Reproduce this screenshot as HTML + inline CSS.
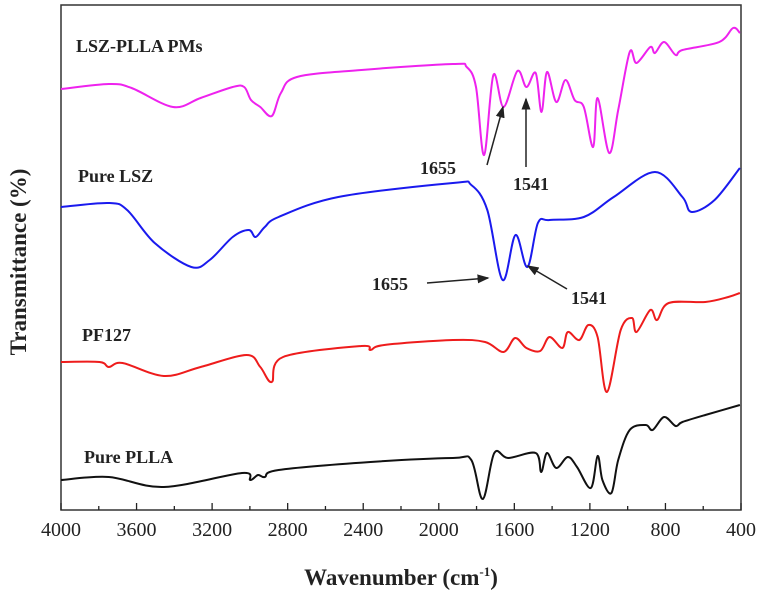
<!DOCTYPE html>
<html><head><meta charset="utf-8"><style>
html,body{margin:0;padding:0;background:#fff;}
svg{display:block;font-family:"Liberation Serif",serif;}
</style></head><body>
<svg id="chart" width="763" height="594" viewBox="0 0 763 594" xmlns="http://www.w3.org/2000/svg"></svg>
<script>
const xTicks=[4000,3600,3200,2800,2400,2000,1600,1200,800,400];
const seriesNames=["LSZ-PLLA PMs","Pure LSZ","PF127","Pure PLLA"];
const seriesColors=["#ee22ee","#1a1aee","#ee1c1c","#111111"];
const wnLSZPLLA=[4000,3747,3626,3407,3261,3091,3030,2994,2945,2884,2836,2751,2410,1925,1852,1803,1760,1711,1657,1584,1536,1487,1456,1427,1378,1329,1281,1232,1183,1159,1098,1050,989,953,880,856,807,746,710,515,442,406];
const tLSZPLLA=[421,426,422,403,412,423,423,410,403,394,417,433,440,446,443,423,355,435,403,439,423,437,398,438,408,430,410,403,363,412,357,400,458,447,463,457,468,455,460,468,482,477];
const wnLSZ=[4000,3747,3650,3504,3310,3213,3091,3006,2970,2921,2848,2532,1925,1828,1743,1662,1594,1531,1475,1414,1232,1074,856,710,661,540,406];
const tLSZ=[303,307,300,267,243,250,273,280,273,283,293,313,327,325,300,230,275,243,287,290,293,313,338,313,298,310,342];
const wnPF127=[4000,3796,3747,3674,3456,3261,3018,2945,2884,2824,2410,2362,2289,1925,1755,1657,1596,1536,1463,1414,1346,1317,1256,1208,1159,1110,1037,977,953,880,844,783,589,467,406];
const tPF127=[148,148,143,147,134,143,155,143,128,153,164,160,165,170,168,158,172,162,159,173,162,178,170,185,173,118,180,192,178,200,190,207,208,213,217];
const wnPLLA=[4000,3747,3456,3042,2998,2957,2921,2848,2362,1925,1828,1767,1706,1633,1487,1458,1427,1378,1317,1268,1195,1159,1134,1086,1050,989,904,868,807,746,710,589,406];
const tPLLA=[30,33,23,37,30,35,33,40,48,52,50,11,57,52,57,38,57,42,53,43,22,54,30,17,50,80,85,80,93,84,88,95,105];

const L=61,R=741,T=5,B=510;
const xS=w=>L+(4000-w)/3600*(R-L);
const yS=v=>B-v/505*(B-T);
const svg=document.getElementById('chart');
const NS='http://www.w3.org/2000/svg';
function mk(tag,attrs,parent){const e=document.createElementNS(NS,tag);for(const k in attrs)e.setAttribute(k,attrs[k]);(parent||svg).appendChild(e);return e;}

const frame=mk('rect',{x:L,y:T,width:R-L,height:B-T,fill:'none',stroke:'#333','stroke-width':1.5});



for(let w=4000;w>=400;w-=200){
  const major=(w%400===0);
  const t=mk('line',{x1:xS(w),x2:xS(w),y1:B,y2:B-(major?7:4),stroke:'#222','stroke-width':1.3});
  
  
}
xTicks.forEach(w=>{
  const t=mk('text',{x:xS(w),y:536,'text-anchor':'middle','font-size':20,fill:'#222'});
  t.textContent=w;
  
  
});

const datasets=[[wnLSZPLLA,tLSZPLLA],[wnLSZ,tLSZ],[wnPF127,tPF127],[wnPLLA,tPLLA]];
const lineNames=['lszplla-spectrum','pure-lsz-spectrum','pf127-spectrum','pure-plla-spectrum'];
datasets.forEach((d,i)=>{
  const pts=d[0].map((w,j)=>[xS(w),yS(d[1][j])]);
  let p='M'+pts[0][0].toFixed(1)+','+pts[0][1].toFixed(1);
  for(let j=0;j<pts.length-1;j++){
    const p0=pts[Math.max(0,j-1)],p1=pts[j],p2=pts[j+1],p3=pts[Math.min(pts.length-1,j+2)];
    const c1x=p1[0]+(p2[0]-p0[0])/6,c1y=p1[1]+(p2[1]-p0[1])/6;
    const c2x=p2[0]-(p3[0]-p1[0])/6,c2y=p2[1]-(p3[1]-p1[1])/6;
    p+=' C'+c1x.toFixed(1)+','+c1y.toFixed(1)+' '+c2x.toFixed(1)+','+c2y.toFixed(1)+' '+p2[0].toFixed(1)+','+p2[1].toFixed(1);
  }
  const path=mk('path',{d:p,fill:'none',stroke:seriesColors[i],'stroke-width':2,'stroke-linejoin':'round'});
  
  
});

const labelPos=[[76,52],[78,182],[82,341],[84,463]];
const labelNames=['label-lszplla','label-pure-lsz','label-pf127','label-pure-plla'];
seriesNames.forEach((n,i)=>{
  const t=mk('text',{x:labelPos[i][0],y:labelPos[i][1],'font-size':18,'font-weight':'bold',fill:'#222'});
  t.textContent=n;
  
  
});

mk('defs',{}).innerHTML='<marker id="ah" markerWidth="8" markerHeight="8" refX="7" refY="4" orient="auto"><path d="M0,1 L8,4 L0,7 z" fill="#222"/></marker>';
const arrows=[[487,165,503,107,'arrow-1655-lszplla'],[526,167,526,99,'arrow-1541-lszplla'],[427,283,488,278,'arrow-1655-lsz'],[567,289,528,266,'arrow-1541-lsz']];
arrows.forEach(a=>{
  const l=mk('line',{x1:a[0],y1:a[1],x2:a[2],y2:a[3],stroke:'#222','stroke-width':1.5,'marker-end':'url(#ah)'});
  
  
});
const ann=[[420,174,'1655','annot-1655-lszplla'],[513,190,'1541','annot-1541-lszplla'],[372,290,'1655','annot-1655-lsz'],[571,304,'1541','annot-1541-lsz']];
ann.forEach(a=>{
  const t=mk('text',{x:a[0],y:a[1],'font-size':18,'font-weight':'bold',fill:'#222'});
  t.textContent=a[2];
  
  
});

const xt=mk('text',{x:401,y:585,'text-anchor':'middle','font-size':23,'font-weight':'bold',fill:'#222'});
xt.innerHTML='Wavenumber (cm<tspan font-size="13" dy="-9">-1</tspan><tspan dy="9">)</tspan>';


const yt=mk('text',{x:0,y:0,transform:'translate(26,262) rotate(-90)','text-anchor':'middle','font-size':23,'font-weight':'bold',fill:'#222'});
yt.textContent='Transmittance (%)';


</script>
</body></html>
